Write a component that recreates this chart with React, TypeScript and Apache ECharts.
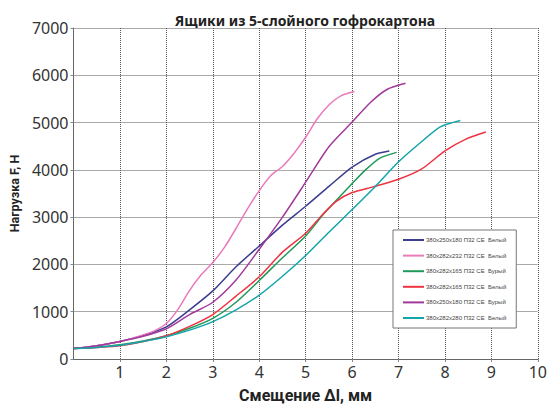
import React, { useEffect, useRef } from 'react';
import * as echarts from 'echarts';

// Series names (legend order)
const seriesNames = [
    '380x250x180 П32 СЕ  Белый',
    '380x282x232 П32 СЕ  Белый',
    '380x282x165 П32 СЕ  Бурый',
    '380x282x165 П32 СЕ  Белый',
    '380x250x180 П32 СЕ  Бурый',
    '380x282x280 П32 СЕ  Белый',
];
const seriesColors = ['#3b3d8e', '#e97bbb', '#1f9a5b', '#ef3340', '#a13a9b', '#14a4a9'];

// Displacement, mm
const navyX = [0, 0.5, 1, 1.5, 2, 2.5, 3, 3.5, 4, 4.5, 5, 5.5, 6, 6.5, 6.8];
const pinkX = [0, 0.5, 1, 1.5, 1.75, 2, 2.25, 2.5, 2.75, 3, 3.25, 3.5, 3.75, 4, 4.25, 4.5, 4.75, 5, 5.25, 5.5, 5.75, 6.05];
const greenX = [0, 0.5, 1, 1.5, 2, 2.5, 3, 3.5, 4, 4.5, 5, 5.4, 6, 6.3, 6.6, 6.96];
const redX = [0, 0.5, 1, 1.5, 2, 2.5, 3, 3.5, 4, 4.5, 5, 5.35, 5.65, 6, 6.45, 7, 7.5, 8, 8.45, 8.88];
const purpleX = [0, 0.5, 1, 1.5, 2, 2.5, 3, 3.5, 4, 4.5, 5, 5.5, 6, 6.4, 6.75, 7.15];
const tealX = [0, 0.5, 1, 1.5, 2, 2.5, 3, 3.5, 4, 4.5, 5, 5.5, 6, 6.5, 7, 7.5, 7.9, 8.33];

// Load, N
const navyY = [220, 280, 370, 500, 680, 1040, 1440, 1950, 2390, 2830, 3230, 3650, 4060, 4330, 4400];
const pinkY = [220, 280, 370, 510, 600, 750, 1050, 1450, 1780, 2040, 2360, 2760, 3180, 3560, 3880, 4070, 4350, 4690, 5080, 5370, 5560, 5655];
const greenY = [220, 250, 300, 380, 490, 650, 860, 1200, 1660, 2140, 2600, 3080, 3710, 4010, 4250, 4370];
const redY = [220, 245, 280, 370, 490, 690, 940, 1330, 1740, 2260, 2660, 3040, 3330, 3520, 3640, 3800, 4020, 4400, 4650, 4800];
const purpleY = [220, 280, 370, 480, 640, 940, 1200, 1670, 2320, 3000, 3740, 4490, 5010, 5430, 5700, 5830];
const tealY = [220, 245, 290, 370, 470, 610, 790, 1040, 1350, 1750, 2190, 2680, 3160, 3650, 4170, 4600, 4910, 5045];

const xs = [navyX, pinkX, greenX, redX, purpleX, tealX];
const ys = [navyY, pinkY, greenY, redY, purpleY, tealY];

const App: React.FC = () => {
    const chartRef = useRef<HTMLDivElement>(null);

    useEffect(() => {
        if (!chartRef.current) return;
        const chart = echarts.init(chartRef.current, undefined, { renderer: 'svg' });

        const gridLine = { show: true, lineStyle: { color: '#555', type: [1, 1] as any, width: 1 } };

        const option: echarts.EChartsOption = {
            animation: false,
            backgroundColor: '#fff',
            title: {
                text: 'Ящики из 5-слойного гофрокартона',
                left: 300,
                top: 8,
                textAlign: 'center',
                textStyle: { fontFamily: 'Noto Sans', fontWeight: 'bold', fontSize: 14, color: '#222' },
            },
            grid: { left: 53, right: 7, top: 28, bottom: 43 },
            legend: {
                orient: 'vertical',
                left: 393,
                top: 230,
                icon: 'rect',
                itemWidth: 21,
                itemHeight: 2,
                itemGap: 7.6,
                padding: [6, 10, 6, 10],
                backgroundColor: '#fff',
                borderColor: '#777',
                borderWidth: 1,
                borderRadius: 0,
                textStyle: { fontFamily: 'Liberation Sans', fontSize: 6, color: '#444', lineHeight: 8, padding: [0, 0, 0, -3] },
                data: seriesNames,
            },
            xAxis: {
                type: 'value',
                min: 0,
                max: 10,
                interval: 1,
                name: 'Смещение ∆l, мм',
                nameLocation: 'middle',
                nameGap: 28,
                nameTextStyle: { fontFamily: 'Roboto', fontWeight: 'bold', fontSize: 16, color: '#222' },
                axisLine: { lineStyle: { color: '#666', width: 1 } },
                axisTick: { show: true, length: 3, lineStyle: { color: '#888' } },
                axisLabel: {
                    showMinLabel: false,
                    margin: 5,
                    fontFamily: 'Noto Sans',
                    fontSize: 16,
                    color: '#333',
                },
                splitLine: gridLine,
            },
            yAxis: {
                type: 'value',
                min: 0,
                max: 7000,
                interval: 1000,
                name: 'Нагрузка F, Н',
                nameLocation: 'middle',
                nameGap: 43,
                nameTextStyle: { fontFamily: 'Roboto', fontWeight: 'bold', fontSize: 12.5, color: '#222' },
                axisLine: { show: true, lineStyle: { color: '#666', width: 1 } },
                axisTick: { show: true, length: 3, lineStyle: { color: '#888' } },
                axisLabel: {
                    margin: 5,
                    fontFamily: 'Noto Sans',
                    fontSize: 16,
                    color: '#333',
                    formatter: (v: number) => String(v),
                },
                splitLine: gridLine,
            },
            series: seriesNames.map((name, i) => ({
                name,
                type: 'line',
                smooth: 0.25,
                symbol: 'none',
                color: seriesColors[i],
                lineStyle: { width: 1.5, color: seriesColors[i] },
                data: xs[i].map((x, j) => [x, ys[i][j]]),
            })),
        };

        chart.setOption(option);
        return () => chart.dispose();
    }, []);

    return (
        <div
            ref={chartRef}
            style={{ position: 'fixed', left: 0, top: 0, width: 550, height: 408 }}
        />
    );
};

export default App;
